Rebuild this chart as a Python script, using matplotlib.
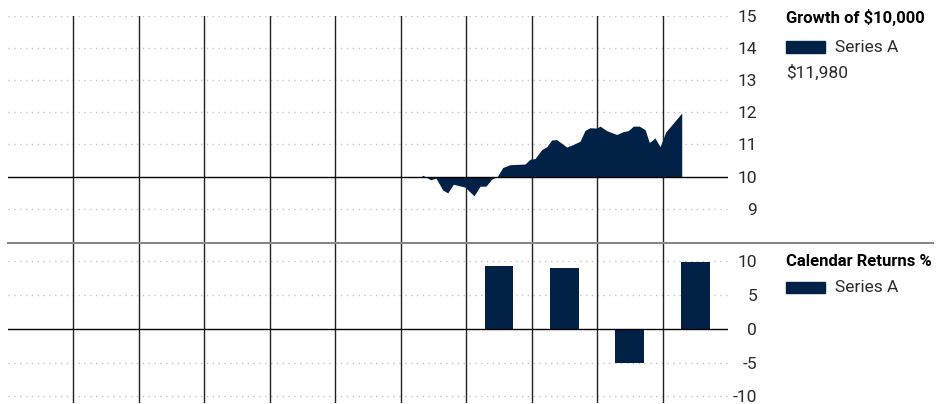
import matplotlib
matplotlib.use("Agg")
import matplotlib.pyplot as plt
from matplotlib.lines import Line2D
from matplotlib.patches import Rectangle

plt.rcParams['font.family'] = ['Roboto', 'DejaVu Sans']
plt.rcParams['axes.unicode_minus'] = False

NAVY = '#012246'

# Growth of $10,000 (x = position in years from chart start)
growth_x = [6.32, 6.336, 6.458, 6.539, 6.642, 6.718, 6.804, 6.982, 7.120, 7.212,
            7.303, 7.390, 7.476, 7.558, 7.670, 7.899, 7.976, 8.052, 8.154, 8.231,
            8.307, 8.383, 8.536, 8.637, 8.739, 8.816, 8.892, 8.995, 9.045, 9.147,
            9.300, 9.400, 9.477, 9.554, 9.645, 9.733, 9.798, 9.885, 9.962, 10.049,
            10.104, 10.293]
growth_v = [10.0, 10.04, 9.90, 9.95, 9.58, 9.49, 9.76, 9.67, 9.40, 9.70,
            9.70, 9.92, 10.0, 10.28, 10.37, 10.39, 10.54, 10.56, 10.84, 10.93,
            11.14, 11.15, 10.92, 11.0, 11.10, 11.44, 11.52, 11.51, 11.57, 11.43,
            11.31, 11.40, 11.43, 11.57, 11.57, 11.46, 11.06, 11.20, 10.93, 11.39,
            11.52, 11.98]

# Calendar returns %
bar_x = [7.5, 8.5, 9.5, 10.5]
bar_v = [9.3, 9.0, -5.1, 9.9]

n_periods = 11
growth_ticks = [9, 10, 11, 12, 13, 14, 15]
return_ticks = [-10, -5, 0, 5, 10]

fig = plt.figure(figsize=(9.49, 4.04), dpi=100)
W, H = 949, 404


def px_axes(x0, y0, x1, y1):
    return fig.add_axes([x0 / W, 1 - y1 / H, (x1 - x0) / W, (y1 - y0) / H])


ax1 = px_axes(8, 16, 728, 242.7)
ax2 = px_axes(8, 242.7, 728, 403)

for ax in (ax1, ax2):
    ax.set_xlim(0, n_periods)
    for s in ax.spines.values():
        s.set_visible(False)
    ax.set_xticks([])
    ax.yaxis.tick_right()
    ax.tick_params(axis='y', length=0, pad=21, labelsize=12.5, labelcolor='#2a2a2a')
    for k in range(1, n_periods):
        ax.axvline(k, color='#222222', lw=1.0, zorder=1)

# top chart
ax1.set_ylim(7.94, 15)
ax1.set_yticks(growth_ticks)
for t in growth_ticks:
    if t != 10:
        ax1.axhline(t, color='#c4c4c4', lw=1, ls=(0, (1, 3.2)), zorder=0)
ax1.fill_between(growth_x, 10, growth_v, color=NAVY, lw=0, zorder=2)
ax1.axhline(10, color='black', lw=1.0, zorder=3)

# bottom chart
ax2.set_ylim(-10.96, 12.68)
ax2.set_yticks(return_ticks)
for t in return_ticks:
    if t != 0:
        ax2.axhline(t, color='#c4c4c4', lw=1, ls=(0, (1, 3.2)), zorder=0)
ax2.bar(bar_x, bar_v, width=0.44, color=NAVY, zorder=2)
ax2.axhline(0, color='black', lw=1.0, zorder=3)

for ax in (ax1, ax2):
    for lab in ax.get_yticklabels():
        lab.set_horizontalalignment('right')

# divider between panels
fig.add_artist(Line2D([8 / W, 933 / W], [1 - 242.7 / H] * 2, color='#888888', lw=1.5))

# legends


def ftext(x, y, s, color='#2a2a2a', size=12.5, **kw):
    fig.text(x / W, 1 - y / H, s, va='center', ha='left', fontsize=size, color=color, **kw)


def swatch(x, y0, y1):
    fig.add_artist(Rectangle((x / W, 1 - y1 / H), 39 / W, (y1 - y0) / H,
                             color=NAVY, transform=fig.transFigure))


ftext(786, 18, 'Growth of $10,000', fontweight='bold', color='black', size=12)
swatch(786, 41, 53)
ftext(835, 47, 'Series A')
ftext(786, 73, '$11,980')

ftext(786, 261, 'Calendar Returns %', fontweight='bold', color='black', size=12)
swatch(786, 281.5, 293)
ftext(835, 287, 'Series A')

fig.savefig('out.png', dpi=100)
